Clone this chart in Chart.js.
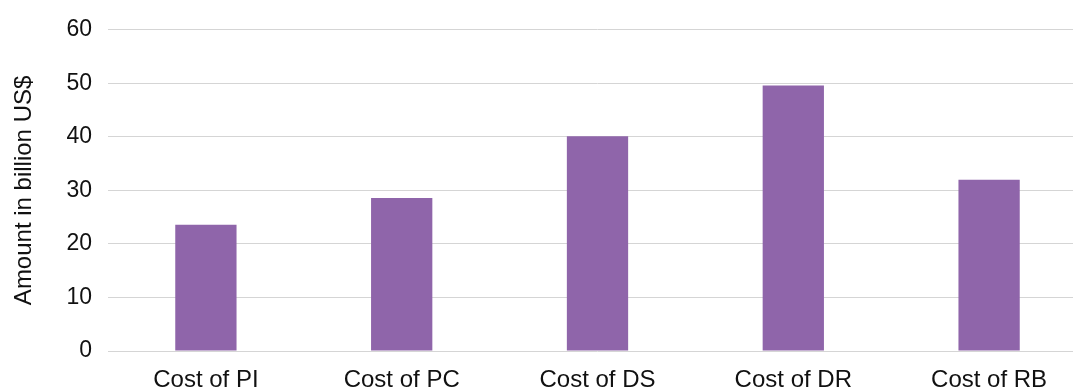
<!DOCTYPE html>
<html>
<head>
<meta charset="utf-8">
<script src="https://cdn.jsdelivr.net/npm/chart.js@4.4.1/dist/chart.umd.min.js"></script>
<style>
  html, body { margin: 0; padding: 0; background: #ffffff; overflow: hidden; }
  #wrap { position: relative; width: 1088px; height: 389px; }
</style>
</head>
<body>
<div id="wrap"><canvas id="chart"></canvas></div>
<script>
// Cost categories and their amounts (billion US$)
const categories = ['Cost of PI', 'Cost of PC', 'Cost of DS', 'Cost of DR', 'Cost of RB'];
const amounts = [23.6, 28.6, 40.1, 49.6, 32.0];
const yTicks = [0, 10, 20, 30, 40, 50, 60];
const yTitle = 'Amount in billion US$';

const font = "'Liberation Sans', Arial, Helvetica, sans-serif";
const gridColor = '#d5d5d5';
const textColor = '#111111';

new Chart(document.getElementById('chart'), {
  type: 'bar',
  data: {
    labels: categories,
    datasets: [{
      data: amounts,
      backgroundColor: '#8f65aa',
      borderWidth: 0,
      barPercentage: 0.313,
      categoryPercentage: 1.0
    }]
  },
  options: {
    responsive: true,
    maintainAspectRatio: false,
    animation: false,
    devicePixelRatio: 1,
    layout: { padding: { top: 29, right: 1, bottom: 0, left: 0 } },
    plugins: {
      legend: { display: false },
      tooltip: { enabled: false }
    },
    scales: {
      x: {
        grid: { display: false },
        border: { display: false },
        ticks: {
          color: textColor,
          font: { family: font, size: 24 },
          padding: 7,
          maxRotation: 0,
          autoSkip: false
        },
        afterFit: (scale) => { scale.height = 38; }
      },
      y: {
        min: yTicks[0],
        max: yTicks[yTicks.length - 1],
        afterBuildTicks: (scale) => { scale.ticks = yTicks.map(v => ({ value: v })); },
        grid: { color: gridColor, lineWidth: 1, drawTicks: false },
        border: { display: false },
        ticks: {
          color: textColor,
          font: { family: font, size: 23 },
          padding: 16
        },
        title: {
          display: true,
          text: yTitle,
          color: textColor,
          font: { family: font, size: 24 },
          padding: { top: 10, bottom: 0 }
        },
        afterFit: (scale) => { scale.width = 108; }
      }
    }
  }
});
</script>
</body>
</html>
